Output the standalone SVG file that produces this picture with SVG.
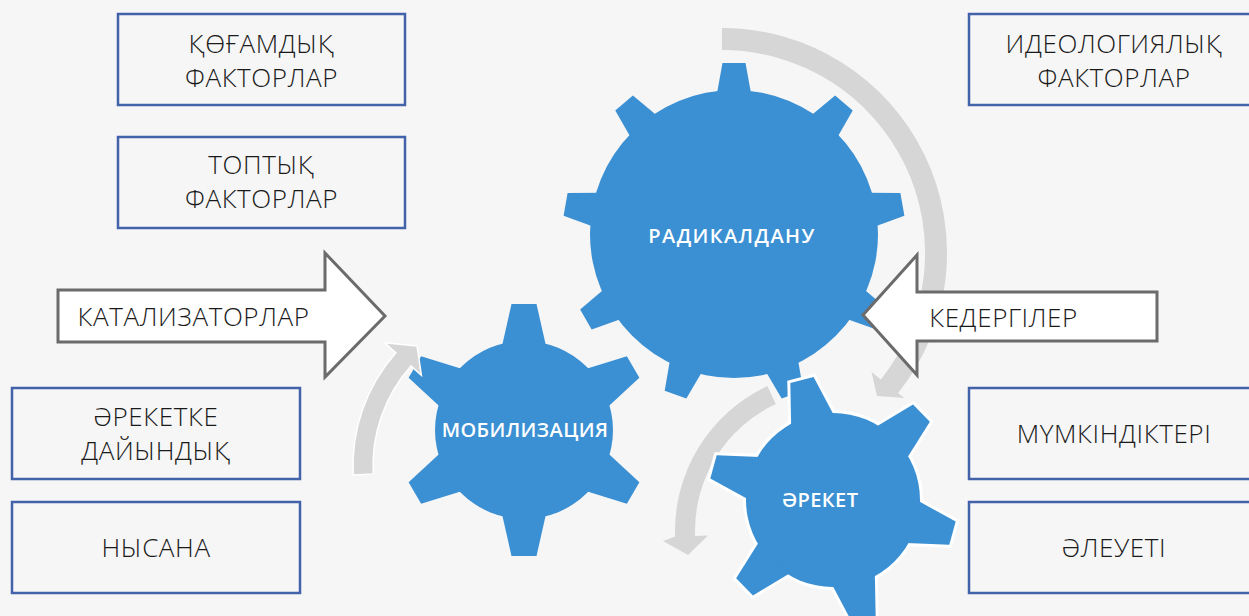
<svg xmlns="http://www.w3.org/2000/svg" xmlns:xlink="http://www.w3.org/1999/xlink" width="1249" height="616" viewBox="0 0 1249 616">
<style>
.box{fill:none;stroke:#4262a9;stroke-width:2.5}
.lbl{font-family:'Open Sans','Noto Sans','DejaVu Sans',sans-serif;font-weight:300;font-size:26px;letter-spacing:0.6px;fill:#1a1a1a;text-anchor:middle}
.gtxt{font-family:'Open Sans','Noto Sans','DejaVu Sans',sans-serif;font-weight:600;font-size:20px;fill:#ffffff;text-anchor:middle}
.gear{fill:#3b8fd3}
.band{fill:#d6d6d6}
.blk{fill:#ffffff;stroke:#6b6b6b;stroke-width:3;stroke-linejoin:miter}
</style>
<defs>
<polygon id="tBig" points="-17.5,-138 -11.5,-171 11.5,-171 17.5,-138"/>
<polygon id="tMob" points="-22,-84 -12.5,-126 12.5,-126 22,-84"/>
<polygon id="tAct" points="-22,-82 -12,-124 12,-124 22,-82"/>
</defs>
<rect x="0" y="0" width="1249" height="616" fill="#f6f6f6"/>

<g id="box-qogamdyq"><rect class="box" x="118" y="14" width="287" height="91"/><text class="lbl" x="261.5" y="53">ҚӨҒАМДЫҚ</text><text class="lbl" x="261.5" y="87">ФАКТОРЛАР</text></g>
<g id="box-toptyq"><rect class="box" x="118" y="137" width="287" height="91"/><text class="lbl" x="261.5" y="174">ТОПТЫҚ</text><text class="lbl" x="261.5" y="208">ФАКТОРЛАР</text></g>
<g id="box-areketke"><rect class="box" x="12" y="388" width="288" height="91"/><text class="lbl" x="156" y="426">ӘРЕКЕТКЕ</text><text class="lbl" x="156" y="460">ДАЙЫНДЫҚ</text></g>
<g id="box-nysana"><rect class="box" x="12" y="502" width="288" height="91"/><text class="lbl" x="156" y="557">НЫСАНА</text></g>
<g id="box-ideolog"><rect class="box" x="969" y="14" width="290" height="91"/><text class="lbl" x="1114" y="53">ИДЕОЛОГИЯЛЫҚ</text><text class="lbl" x="1114" y="87">ФАКТОРЛАР</text></g>
<g id="box-mumkin"><rect class="box" x="969" y="388" width="290" height="91"/><text class="lbl" x="1114" y="443">МҮМКІНДІКТЕРІ</text></g>
<g id="box-aleueti"><rect class="box" x="969" y="502" width="290" height="91"/><text class="lbl" x="1114" y="557">ӘЛЕУЕТІ</text></g>

<g id="gear-radikal" class="gear" transform="translate(734,234)">
<circle r="144"/>
<use xlink:href="#tBig"/><use xlink:href="#tBig" transform="rotate(40)"/><use xlink:href="#tBig" transform="rotate(80)"/><use xlink:href="#tBig" transform="rotate(120)"/><use xlink:href="#tBig" transform="rotate(160)"/><use xlink:href="#tBig" transform="rotate(200)"/><use xlink:href="#tBig" transform="rotate(240)"/><use xlink:href="#tBig" transform="rotate(280)"/><use xlink:href="#tBig" transform="rotate(320)"/>
<text class="gtxt" x="-2" y="9" font-size="21" letter-spacing="1.4">РАДИКАЛДАНУ</text>
</g>

<g id="gear-mobil" class="gear" transform="translate(524,430)">
<circle r="89"/>
<use xlink:href="#tMob"/><use xlink:href="#tMob" transform="rotate(60)"/><use xlink:href="#tMob" transform="rotate(120)"/><use xlink:href="#tMob" transform="rotate(180)"/><use xlink:href="#tMob" transform="rotate(240)"/><use xlink:href="#tMob" transform="rotate(300)"/>
<text class="gtxt" x="1" y="7" letter-spacing="0.4">МОБИЛИЗАЦИЯ</text>
</g>

<g id="connectors">
<path class="band" d="M 722 28 A 225 225 0 0 1 898.1 393.1 L 904.3 398 L 877 396 L 871.5 371.9 L 880.9 379.4 A 203 203 0 0 0 722 50 Z"/>
<path class="band" stroke="#ffffff" stroke-width="1.5" d="M 353.2 474.9 A 171 171 0 0 1 395.9 352.7 L 384.7 342.8 L 417 346 L 421.4 375.2 L 410.9 365.9 A 151 151 0 0 0 373.2 473.9 Z"/>
<path class="band" d="M 767.4 386 A 160 160 0 0 0 675.1 536.6 L 663 541 L 688 555 L 708.1 535.4 L 695.1 535.9 A 140 140 0 0 1 775.8 404.1 Z"/>
</g>

<g id="gear-areket" transform="translate(833,500)">
<g fill="#ffffff" stroke="#ffffff" stroke-width="6">
<circle r="87"/>
<use xlink:href="#tAct" transform="rotate(-14.5)"/><use xlink:href="#tAct" transform="rotate(45.5)"/><use xlink:href="#tAct" transform="rotate(105.5)"/><use xlink:href="#tAct" transform="rotate(165.5)"/><use xlink:href="#tAct" transform="rotate(225.5)"/><use xlink:href="#tAct" transform="rotate(285.5)"/>
</g>
<g class="gear">
<circle r="87"/>
<use xlink:href="#tAct" transform="rotate(-14.5)"/><use xlink:href="#tAct" transform="rotate(45.5)"/><use xlink:href="#tAct" transform="rotate(105.5)"/><use xlink:href="#tAct" transform="rotate(165.5)"/><use xlink:href="#tAct" transform="rotate(225.5)"/><use xlink:href="#tAct" transform="rotate(285.5)"/>
</g>
<text class="gtxt" x="-13" y="7" letter-spacing="0.4">ӘРЕКЕТ</text>
</g>

<g id="arrow-katalizator">
<polygon class="blk" points="58,290 325,290 325,253 385,316 325,377 325,342 58,342"/>
<text class="lbl" x="193.5" y="326">КАТАЛИЗАТОРЛАР</text>
</g>
<g id="arrow-kedergi">
<polygon class="blk" points="1157,292 917,292 917,255 863,315 917,375 917,341 1157,341"/>
<text class="lbl" x="1003.5" y="327">КЕДЕРГІЛЕР</text>
</g>
</svg>
